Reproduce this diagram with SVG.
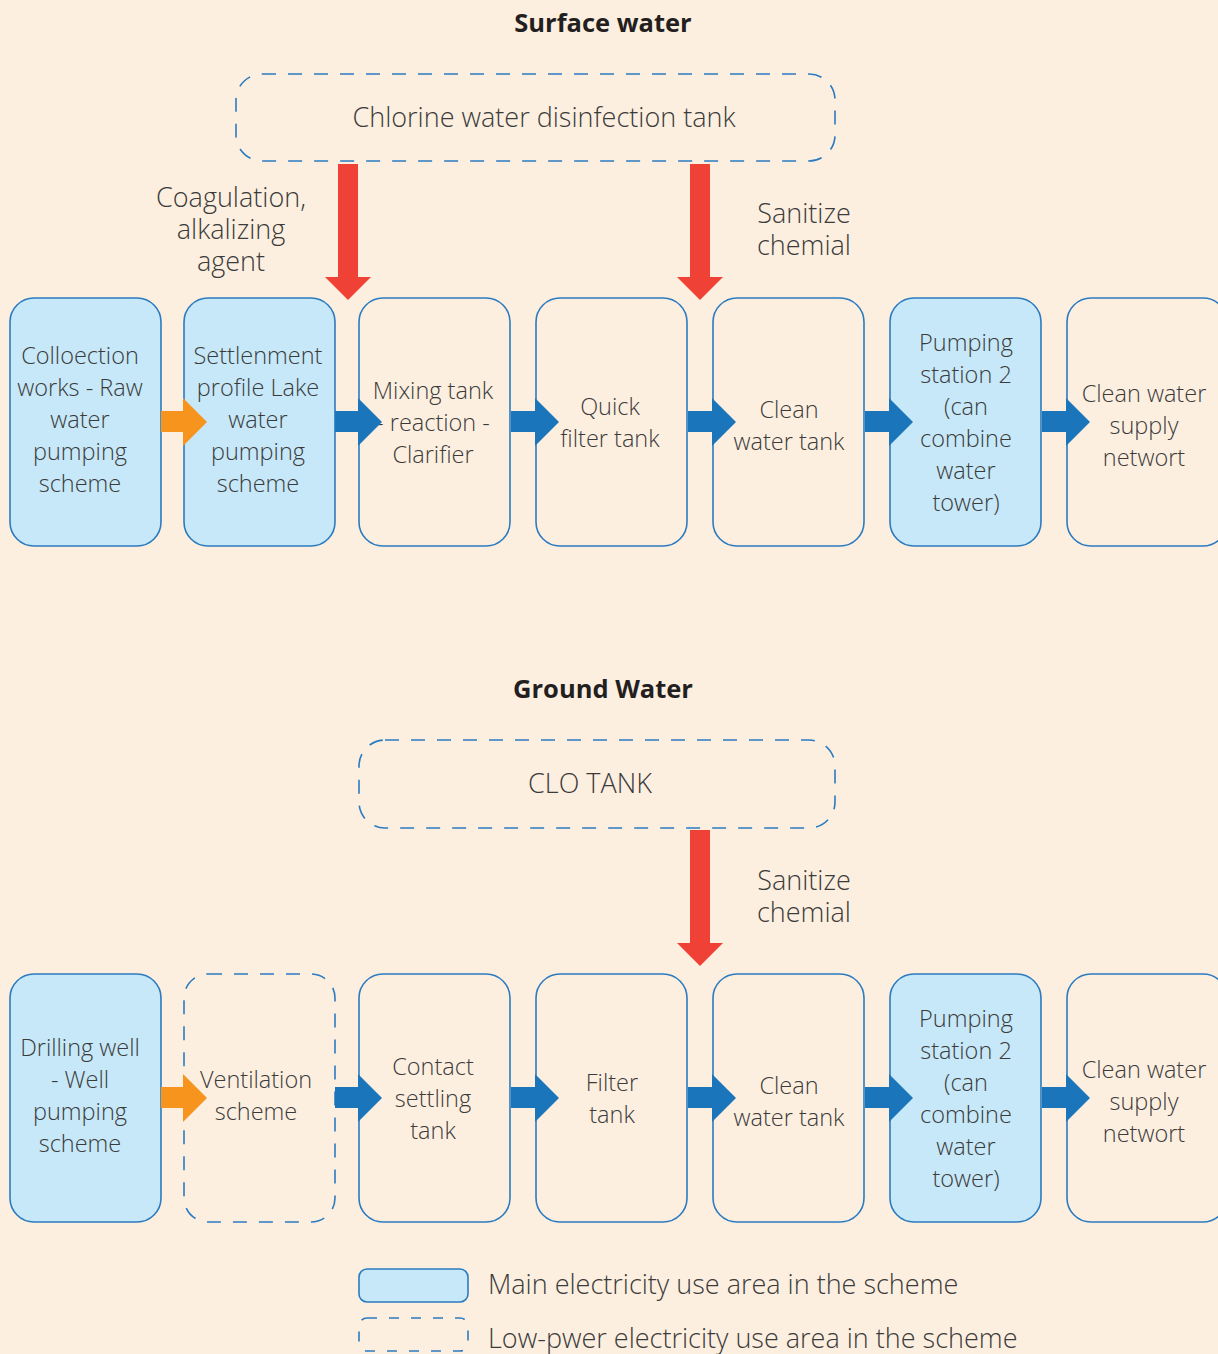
<svg xmlns="http://www.w3.org/2000/svg" width="1218" height="1354" viewBox="0 0 1218 1354">
<defs>
<style>
.bg{fill:#FDEFE0}
.main{fill:#C6E8F8;stroke:#2B7BC0;stroke-width:1.6}
.plain{fill:none;stroke:#2B7BC0;stroke-width:1.6}
.dash{fill:none;stroke:#2B7BC0;stroke-width:1.6;stroke-dasharray:14 12}
.t{font-family:"Open Sans","Noto Sans","Liberation Sans",sans-serif;font-weight:300;font-size:23.5px;fill:#3b3b3b;text-anchor:middle}
.lbl{font-family:"Open Sans","Noto Sans","Liberation Sans",sans-serif;font-weight:300;font-size:27px;fill:#3b3b3b;text-anchor:middle}
.leg{font-family:"Open Sans","Noto Sans","Liberation Sans",sans-serif;font-weight:300;font-size:27px;fill:#3b3b3b}
.title{font-family:"Open Sans","Noto Sans","Liberation Sans",sans-serif;font-weight:700;font-size:25.5px;fill:#231F20;text-anchor:middle}
.blue{fill:#1B75BB}
.orange{fill:#F7941D}
.red{fill:#EF4136}
</style>
</defs>
<rect class="bg" x="0" y="0" width="1218" height="1354"/>

<text class="title" x="603" y="32">Surface water</text>
<text class="title" x="603" y="698">Ground Water</text>

<g id="chlorine-tank">
<rect class="dash" x="236" y="74" width="599" height="87" rx="26"/>
<text class="lbl" x="544" y="127">Chlorine water disinfection tank</text>
</g>
<g id="label-coagulation">
<text class="lbl" x="231" y="207">Coagulation,<tspan x="231" dy="32">alkalizing</tspan><tspan x="231" dy="32">agent</tspan></text>
</g>
<g id="label-sanitize-1">
<text class="lbl" x="804" y="223">Sanitize<tspan x="804" dy="32">chemial</tspan></text>
</g>

<g id="s1">
<rect class="main" x="10" y="298" width="151" height="248" rx="24"/>
<text class="t" x="80" y="364">Colloection</text>
<text class="t" x="80" y="396">works - Raw</text>
<text class="t" x="80" y="428">water</text>
<text class="t" x="80" y="460">pumping</text>
<text class="t" x="80" y="492">scheme</text>
</g>
<g id="s2">
<rect class="main" x="184" y="298" width="151" height="248" rx="24"/>
<text class="t" x="258" y="364">Settlenment</text>
<text class="t" x="258" y="396">profile Lake</text>
<text class="t" x="258" y="428">water</text>
<text class="t" x="258" y="460">pumping</text>
<text class="t" x="258" y="492">scheme</text>
</g>
<g id="s3">
<rect class="plain" x="359" y="298" width="151" height="248" rx="24"/>
<text class="t" x="433" y="399">Mixing tank</text>
<text class="t" x="433" y="431">- reaction -</text>
<text class="t" x="433" y="463">Clarifier</text>
</g>
<g id="s4">
<rect class="plain" x="536" y="298" width="151" height="248" rx="24"/>
<text class="t" x="610" y="415">Quick</text>
<text class="t" x="610" y="447">filter tank</text>
</g>
<g id="s5">
<rect class="plain" x="713" y="298" width="151" height="248" rx="24"/>
<text class="t" x="789" y="418">Clean</text>
<text class="t" x="789" y="450">water tank</text>
</g>
<g id="s6">
<rect class="main" x="890" y="298" width="151" height="248" rx="24"/>
<text class="t" x="966" y="351">Pumping</text>
<text class="t" x="966" y="383">station 2</text>
<text class="t" x="966" y="415">(can</text>
<text class="t" x="966" y="447">combine</text>
<text class="t" x="966" y="479">water</text>
<text class="t" x="966" y="511">tower)</text>
</g>
<g id="s7">
<rect class="plain" x="1067" y="298" width="160" height="248" rx="24"/>
<text class="t" x="1144" y="402">Clean water</text>
<text class="t" x="1144" y="434">supply</text>
<text class="t" x="1144" y="466">networt</text>
</g>

<g id="clo-tank">
<rect class="dash" x="359" y="740" width="476" height="88" rx="26"/>
<text class="lbl" x="590" y="793">CLO TANK</text>
</g>
<g id="label-sanitize-2">
<text class="lbl" x="804" y="890">Sanitize<tspan x="804" dy="32">chemial</tspan></text>
</g>

<g id="g1">
<rect class="main" x="10" y="974" width="151" height="248" rx="24"/>
<text class="t" x="80" y="1056">Drilling well</text>
<text class="t" x="80" y="1088">- Well</text>
<text class="t" x="80" y="1120">pumping</text>
<text class="t" x="80" y="1152">scheme</text>
</g>
<g id="g2">
<rect class="dash" x="184" y="974" width="151" height="248" rx="24"/>
<text class="t" x="256" y="1088">Ventilation</text>
<text class="t" x="256" y="1120">scheme</text>
</g>
<g id="g3">
<rect class="plain" x="359" y="974" width="151" height="248" rx="24"/>
<text class="t" x="433" y="1075">Contact</text>
<text class="t" x="433" y="1107">settling</text>
<text class="t" x="433" y="1139">tank</text>
</g>
<g id="g4">
<rect class="plain" x="536" y="974" width="151" height="248" rx="24"/>
<text class="t" x="612" y="1091">Filter</text>
<text class="t" x="612" y="1123">tank</text>
</g>
<g id="g5">
<rect class="plain" x="713" y="974" width="151" height="248" rx="24"/>
<text class="t" x="789" y="1094">Clean</text>
<text class="t" x="789" y="1126">water tank</text>
</g>
<g id="g6">
<rect class="main" x="890" y="974" width="151" height="248" rx="24"/>
<text class="t" x="966" y="1027">Pumping</text>
<text class="t" x="966" y="1059">station 2</text>
<text class="t" x="966" y="1091">(can</text>
<text class="t" x="966" y="1123">combine</text>
<text class="t" x="966" y="1155">water</text>
<text class="t" x="966" y="1187">tower)</text>
</g>
<g id="g7">
<rect class="plain" x="1067" y="974" width="160" height="248" rx="24"/>
<text class="t" x="1144" y="1078">Clean water</text>
<text class="t" x="1144" y="1110">supply</text>
<text class="t" x="1144" y="1142">networt</text>
</g>

<g id="connectors">
<polygon class="orange" points="161,411 183,411 183,398 207,422 183,446 183,432 161,432"/>
<polygon class="blue" points="335,411 358,411 358,398 382,422 358,446 358,432 335,432"/>
<polygon class="blue" points="511,411 535,411 535,398 559,422 535,446 535,432 511,432"/>
<polygon class="blue" points="688,411 712,411 712,398 736,422 712,446 712,432 688,432"/>
<polygon class="blue" points="865,411 889,411 889,398 913,422 889,446 889,432 865,432"/>
<polygon class="blue" points="1042,411 1066,411 1066,398 1090,422 1066,446 1066,432 1042,432"/>
<polygon class="orange" points="161,1087 183,1087 183,1074 207,1098 183,1122 183,1108 161,1108"/>
<polygon class="blue" points="335,1087 358,1087 358,1074 382,1098 358,1122 358,1108 335,1108"/>
<polygon class="blue" points="511,1087 535,1087 535,1074 559,1098 535,1122 535,1108 511,1108"/>
<polygon class="blue" points="688,1087 712,1087 712,1074 736,1098 712,1122 712,1108 688,1108"/>
<polygon class="blue" points="865,1087 889,1087 889,1074 913,1098 889,1122 889,1108 865,1108"/>
<polygon class="blue" points="1042,1087 1066,1087 1066,1074 1090,1098 1066,1122 1066,1108 1042,1108"/>
<polygon class="red" points="338,164 358,164 358,277 371,277 348,300 325,277 338,277"/>
<polygon class="red" points="690,164 710,164 710,277 723,277 700,300 677,277 690,277"/>
<polygon class="red" points="690,830 710,830 710,943 723,943 700,966 677,943 690,943"/>
</g>

<g id="legend">
<rect class="main" x="359" y="1269" width="109" height="33" rx="8"/>
<text class="leg" x="488" y="1294">Main electricity use area in the scheme</text>
<rect class="dash" x="359" y="1318" width="109" height="33" rx="8" style="stroke-dasharray:10 12"/>
<text class="leg" x="488" y="1348">Low-pwer electricity use area in the scheme</text>
</g>
</svg>
